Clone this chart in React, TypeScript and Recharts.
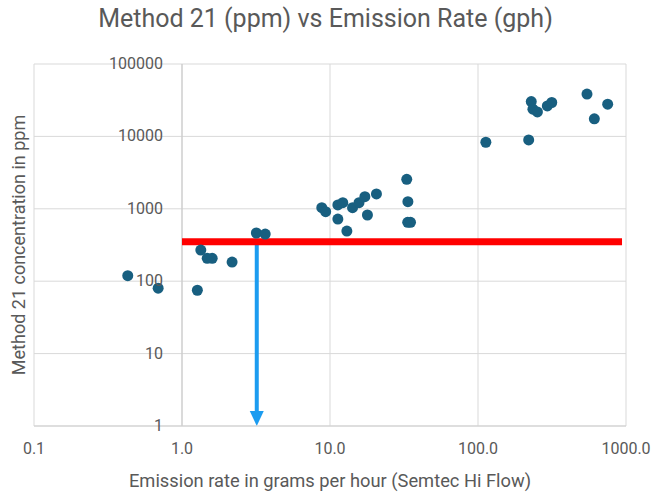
import { ScatterChart, Scatter, XAxis, YAxis, CartesianGrid, ReferenceLine } from "recharts";

// emission rate (g/h)
const emissionRate = [
  0.43, 0.69, 1.27, 1.34, 1.48, 1.6, 2.18, 3.18, 3.65,
  8.8, 9.35, 11.3, 12.2, 11.3, 13.0, 14.2, 15.7, 17.2, 17.9, 20.6,
  33.0, 33.6, 33.5, 35.0,
  113, 220, 229, 235, 252, 294, 315, 545, 611, 752,
];
// Method 21 concentration (ppm)
const ppm = [
  119, 80, 75, 269, 207, 207, 184, 463, 448,
  1036, 912, 1129, 1214, 722, 493, 1036, 1214, 1469, 821, 1602,
  2558, 1254, 650, 650,
  8300, 8950, 30300, 23800, 21800, 26400, 29400, 38400, 17500, 27900,
];

const xTicks = [0.1, 1, 10, 100, 1000];
const yTicks = [1, 10, 100, 1000, 10000, 100000];

// threshold line and the arrow dropped from it
const thresholdPpm = 350;
const thresholdXRange = [1, 940];
const arrowX = 3.2;

const data = emissionRate.map((x, i) => ({ x, y: ppm[i] }));

const FONT = "'Roboto', sans-serif";
const TEXT = "#595959";

const YTick = (props: any) => {
  const { x, y, payload } = props;
  return (
    <text x={x + 129} y={y} dy={5} textAnchor="end" fill={TEXT} fontSize={16} fontFamily={FONT}>
      {payload.value}
    </text>
  );
};

const Dot = (props: any) => <circle cx={props.cx} cy={props.cy} r={5.5} fill="#185f80" />;

const Arrow = (props: any) => {
  const { x1, y1, x2, y2 } = props;
  const head = 15;
  return (
    <g>
      <line x1={x1} y1={y1} x2={x2} y2={y2 - head + 1} stroke="#1c9cf0" strokeWidth={4} />
      <polygon points={`${x2 - 7},${y2 - head} ${x2 + 7},${y2 - head} ${x2},${y2}`} fill="#1c9cf0" />
    </g>
  );
};

export default function App() {
  return (
    <div style={{ position: "absolute", left: 0, top: 0, width: 651, height: 492, background: "#fff", fontFamily: FONT }}>
      <div style={{ position: "absolute", top: 4, left: 0, width: 651, textAlign: "center", fontSize: 25, color: TEXT }}>
        Method 21 (ppm) vs Emission Rate (gph)
      </div>
      <ScatterChart width={651} height={492} margin={{ top: 64, right: 25, bottom: 0, left: 0 }}>
        <CartesianGrid stroke="#d9d9d9" />
        <XAxis
          type="number"
          dataKey="x"
          scale="log"
          domain={[0.1, 1000]}
          ticks={xTicks}
          tickFormatter={(v: number) => v.toFixed(1)}
          allowDataOverflow
          height={66}
          axisLine={{ stroke: "#d0d0d0" }}
          tickLine={false}
          tickMargin={11}
          tick={{ fill: TEXT, fontSize: 16, fontFamily: FONT }}
          label={{ value: "Emission rate in grams per hour (Semtec Hi Flow)", position: "insideBottom", offset: 5, fill: TEXT, fontSize: 18.3, fontFamily: FONT }}
        />
        <YAxis
          type="number"
          dataKey="y"
          scale="log"
          domain={[1, 100000]}
          ticks={yTicks}
          allowDataOverflow
          width={34}
          axisLine={false}
          tickLine={false}
          tickSize={0}
          tickMargin={0}
          tick={<YTick />}
          label={{ value: "Method 21 concentration in ppm", angle: -90, position: "center", dx: 2, fill: TEXT, fontSize: 18, fontFamily: FONT }}
        />
        <ReferenceLine x={1} stroke="#c8c8c8" />
        <ReferenceLine
          segment={[{ x: arrowX, y: thresholdPpm }, { x: arrowX, y: 1 }]}
          shape={<Arrow />}
        />
        <Scatter data={data} fill="#185f80" shape={<Dot />} isAnimationActive={false} />
        <ReferenceLine
          segment={[{ x: thresholdXRange[0], y: thresholdPpm }, { x: thresholdXRange[1], y: thresholdPpm }]}
          stroke="#ff0000"
          strokeWidth={7}
        />
      </ScatterChart>
    </div>
  );
}
